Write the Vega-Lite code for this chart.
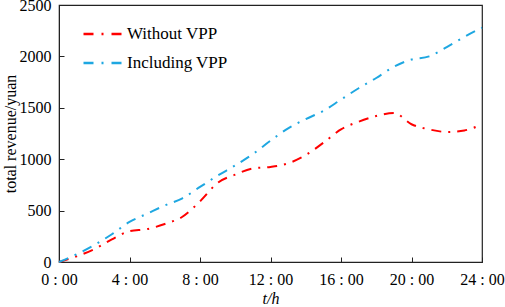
{
  "$schema": "https://vega.github.io/schema/vega-lite/v6.json",
  "width": 423,
  "height": 257,
  "autosize": {"type": "none"},
  "padding": {"left": 59, "top": 5, "right": 23, "bottom": 45},
  "config": {
    "font": "Liberation Serif",
    "view": {"stroke": "#222", "strokeWidth": 1.2},
    "axis": {"grid": false, "domainColor": "#222", "tickColor": "#222", "labelColor": "#000", "titleColor": "#000", "labelFontSize": 16, "titleFontSize": 16, "titleFontWeight": "normal"}
  },
  "data": {"values": [
    {"h":0,"v":0,"s":"Without VPP"},{"h":1,"v":55,"s":"Without VPP"},{"h":2,"v":125,"s":"Without VPP"},{"h":3,"v":220,"s":"Without VPP"},{"h":4,"v":300,"s":"Without VPP"},{"h":5,"v":320,"s":"Without VPP"},{"h":6,"v":370,"s":"Without VPP"},{"h":7,"v":440,"s":"Without VPP"},{"h":8,"v":590,"s":"Without VPP"},{"h":9,"v":770,"s":"Without VPP"},{"h":10,"v":850,"s":"Without VPP"},{"h":11,"v":910,"s":"Without VPP"},{"h":12,"v":925,"s":"Without VPP"},{"h":13,"v":960,"s":"Without VPP"},{"h":14,"v":1040,"s":"Without VPP"},{"h":15,"v":1160,"s":"Without VPP"},{"h":16,"v":1290,"s":"Without VPP"},{"h":17,"v":1365,"s":"Without VPP"},{"h":18,"v":1420,"s":"Without VPP"},{"h":19,"v":1450,"s":"Without VPP"},{"h":20,"v":1340,"s":"Without VPP"},{"h":21,"v":1290,"s":"Without VPP"},{"h":22,"v":1265,"s":"Without VPP"},{"h":23,"v":1280,"s":"Without VPP"},{"h":24,"v":1340,"s":"Without VPP"},
    {"h":0,"v":0,"s":"Including VPP"},{"h":1,"v":75,"s":"Including VPP"},{"h":2,"v":165,"s":"Including VPP"},{"h":3,"v":270,"s":"Including VPP"},{"h":4,"v":390,"s":"Including VPP"},{"h":5,"v":470,"s":"Including VPP"},{"h":6,"v":550,"s":"Including VPP"},{"h":7,"v":620,"s":"Including VPP"},{"h":8,"v":730,"s":"Including VPP"},{"h":9,"v":840,"s":"Including VPP"},{"h":10,"v":940,"s":"Including VPP"},{"h":11,"v":1050,"s":"Including VPP"},{"h":12,"v":1180,"s":"Including VPP"},{"h":13,"v":1300,"s":"Including VPP"},{"h":14,"v":1390,"s":"Including VPP"},{"h":15,"v":1470,"s":"Including VPP"},{"h":16,"v":1580,"s":"Including VPP"},{"h":17,"v":1690,"s":"Including VPP"},{"h":18,"v":1790,"s":"Including VPP"},{"h":19,"v":1900,"s":"Including VPP"},{"h":20,"v":1970,"s":"Including VPP"},{"h":21,"v":2000,"s":"Including VPP"},{"h":22,"v":2090,"s":"Including VPP"},{"h":23,"v":2190,"s":"Including VPP"},{"h":24,"v":2280,"s":"Including VPP"}
  ]},
  "mark": {"type": "line", "interpolate": "monotone", "strokeWidth": 2, "strokeDash": [10, 7, 2, 7]},
  "encoding": {
    "x": {"field": "h", "type": "quantitative", "scale": {"domain": [0, 24], "nice": false},
      "axis": {"values": [0,4,8,12,16,20,24], "labelExpr": "datum.value + ' : 00'", "tickSize": -5, "labelPadding": 14, "title": "t/h", "titleFontStyle": "italic", "titlePadding": 3, "labelFlush": false, "labelFont": "serif", "titleFont": "serif"}},
    "y": {"field": "v", "type": "quantitative", "scale": {"domain": [0, 2500], "nice": false},
      "axis": {"values": [0,500,1000,1500,2000,2500], "format": "d", "tickSize": -5, "labelPadding": 13, "title": "total revenue/yuan", "titlePadding": 1, "labelFont": "serif", "titleFont": "serif"}},
    "color": {"field": "s", "type": "nominal", "sort": ["Without VPP", "Including VPP"],
      "scale": {"domain": ["Without VPP", "Including VPP"], "range": ["#FF0000", "#1EA7E1"]},
      "legend": {"title": null, "orient": "none", "legendX": 23, "legendY": 8, "symbolType": "stroke", "symbolSize": 1521, "symbolStrokeWidth": 2.5, "symbolDash": [10, 8, 2, 8], "labelFontSize": 17, "labelFont": "serif", "labelColor": "#000", "rowPadding": -16, "labelOffset": 3}}
  }
}
